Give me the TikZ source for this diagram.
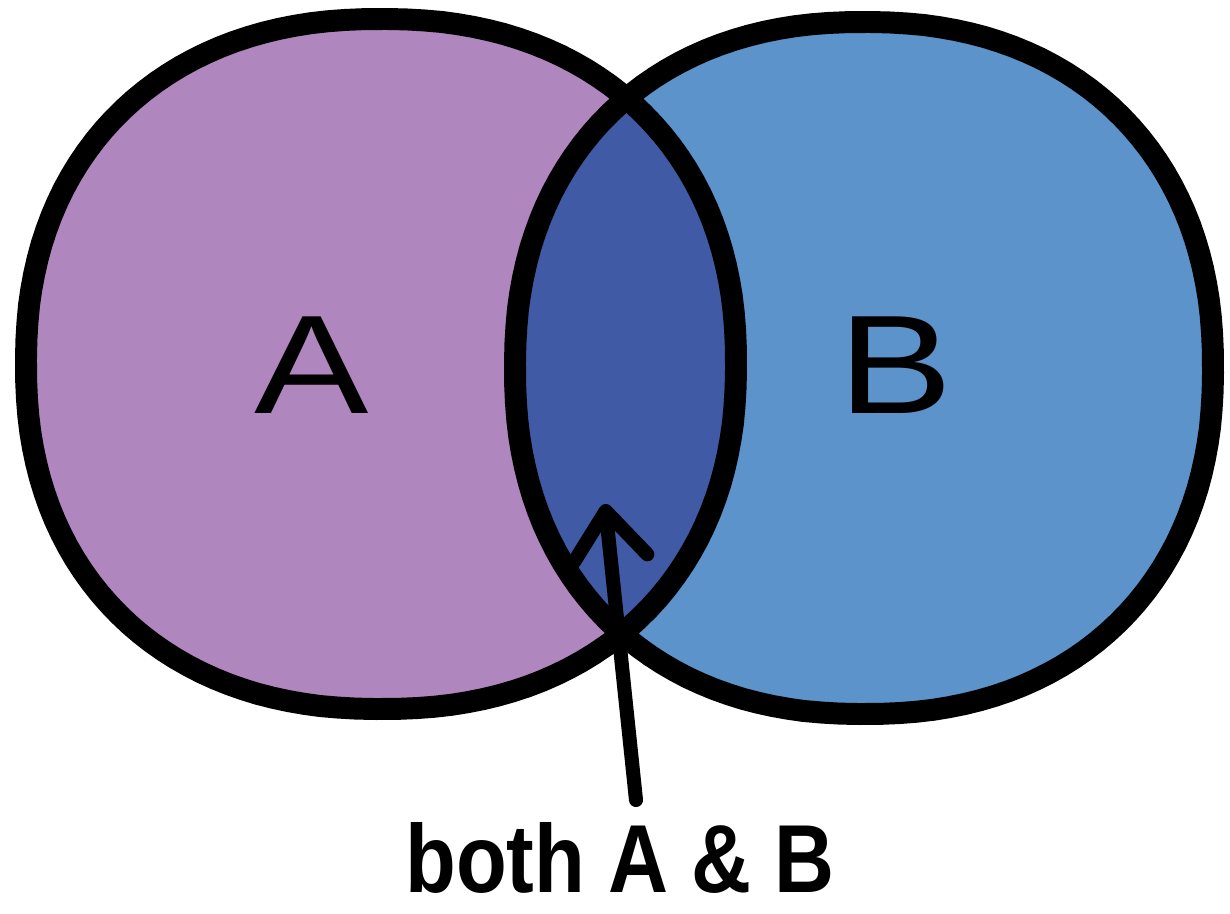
\documentclass[tikz,border=0pt]{standalone}
\usepackage{fontspec}
\setmainfont{Liberation Sans}
\usetikzlibrary{arrows.meta}
\definecolor{setA}{RGB}{176,134,190}
\definecolor{setB}{RGB}{92,147,203}
\definecolor{setAB}{RGB}{64,90,165}
\def\shapeA{plot[domain=0.5:360.5,samples=145,variable=\t]
  ({381+355*sign(cos(\t))*pow(abs(cos(\t)),0.9)},{364+345*sign(sin(\t))*pow(abs(sin(\t)),0.9)}) -- cycle}
\def\shapeB{plot[domain=0.5:360.5,samples=145,variable=\t]
  ({864+349*sign(cos(\t))*pow(abs(cos(\t)),0.9)},{368+346*sign(sin(\t))*pow(abs(sin(\t)),0.9)}) -- cycle}
\begin{document}
\begin{tikzpicture}[x=0.02cm,y=-0.02cm,
  outline/.style={draw=black,line width=12.5pt,line join=round},
  setlabel/.style={inner sep=0pt,xscale=1.22,font=\fontsize{80}{80}\selectfont},
  pointer/.style={line width=8pt,line cap=round,
    -{Straight Barb[length=27pt,width=42pt,line cap=round,line join=round]}}]
\useasboundingbox (0,0) rectangle (1230,913);
\fill[setA] \shapeA;
\fill[setB] \shapeB;
\begin{scope}
  \clip \shapeA;
  \fill[setAB] \shapeB;
\end{scope}
\draw[outline] \shapeA;
\draw[outline] \shapeB;
\node[setlabel] (A) at (312,365) {A};
\node[setlabel] (B) at (896,365) {B};
\node[anchor=base,inner sep=0pt,xscale=0.86,font=\bfseries\fontsize{55}{55}\selectfont] (both) at (620,892) {both A \& B};
\coordinate (tail) at (636,800);
\coordinate (tip) at (605,504);
\draw[pointer] (tail) -- (tip);
\end{tikzpicture}
\end{document}
